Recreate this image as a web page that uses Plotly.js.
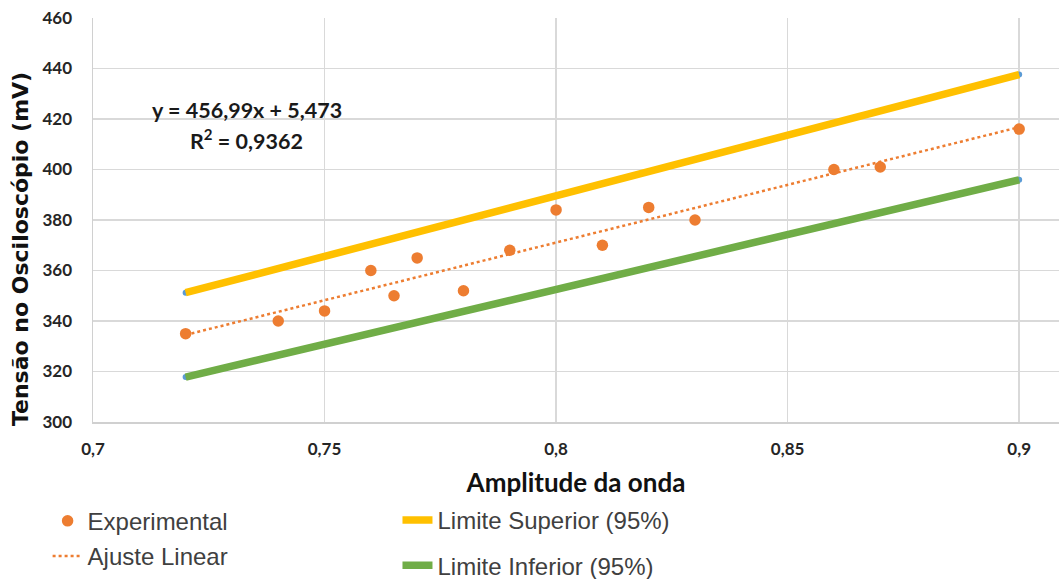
<!DOCTYPE html>
<html>
<head>
<meta charset="utf-8">
<script src="https://cdn.plot.ly/plotly-3.0.1.min.js"></script>
<style>
  html, body { margin: 0; padding: 0; background: #ffffff; }
  #chart { width: 1059px; height: 579px; }
</style>
</head>
<body>
<div id="chart"></div>
<script>
// Amplitude of the wave (x) for every measurement
const amplitude = [0.72, 0.74, 0.75, 0.76, 0.765, 0.77, 0.78, 0.79, 0.80, 0.81, 0.82, 0.83, 0.86, 0.87, 0.90];
// Voltage read on the oscilloscope (mV)
const tensao = [335, 340, 344, 360, 350, 365, 352, 368, 384, 370, 385, 380, 400, 401, 416];
// Upper and lower 95% limits (mV)
const limiteSuperior = [351.2, 360.8, 365.6, 370.4, 372.8, 375.2, 380.0, 384.8, 389.6, 394.4, 399.2, 404.0, 418.4, 423.2, 437.6];
const limiteInferior = [317.8, 326.5, 330.8, 335.2, 337.3, 339.5, 343.8, 348.2, 352.5, 356.9, 361.2, 365.5, 378.6, 382.9, 395.9];
// Linear fit as stated in the chart: y = 456,99x + 5,473
const fitSlope = 456.99;
const fitIntercept = 5.473;
const fitR2 = 0.9362;
const fitX = [amplitude[0], amplitude[amplitude.length - 1]];
const fitY = fitX.map(x => fitSlope * x + fitIntercept);

const xTicks = [0.7, 0.75, 0.8, 0.85, 0.9];
const yTicks = [300, 320, 340, 360, 380, 400, 420, 440, 460];

const calibriLike = 'Lato, "Open Sans", sans-serif';
const legendFont = { family: '"Liberation Sans", Arial, sans-serif', size: 24, color: '#404040' };

const traces = [
  // small blue point markers sitting under the limit lines
  { x: amplitude, y: limiteSuperior, type: 'scatter', mode: 'markers',
    marker: { color: '#5B9BD5', size: 6 }, showlegend: false, hoverinfo: 'skip' },
  { x: amplitude, y: limiteInferior, type: 'scatter', mode: 'markers',
    marker: { color: '#5B9BD5', size: 6 }, showlegend: false, hoverinfo: 'skip' },
  { x: amplitude, y: limiteSuperior, type: 'scatter', mode: 'lines', name: 'Limite Superior (95%)',
    line: { color: '#FFC000', width: 7.5 }, legend: 'legend2', legendgroup: 'sup', legendrank: 1 },
  { x: amplitude, y: limiteInferior, type: 'scatter', mode: 'lines', name: 'Limite Inferior (95%)',
    line: { color: '#70AD47', width: 7.5 }, legend: 'legend2', legendgroup: 'inf', legendrank: 2 },
  { x: fitX, y: fitY, type: 'scatter', mode: 'lines', name: 'Ajuste Linear',
    line: { color: '#ED7D31', width: 2.5, dash: '3px,3px' }, legend: 'legend', legendgroup: 'fit', legendrank: 2 },
  { x: amplitude, y: tensao, type: 'scatter', mode: 'markers', name: 'Experimental',
    marker: { color: '#ED7D31', size: 11.5 }, legend: 'legend', legendgroup: 'exp', legendrank: 1 }
];

const layout = {
  width: 1059, height: 579,
  margin: { l: 93, r: 0, t: 18, b: 157, autoexpand: false },
  paper_bgcolor: '#ffffff', plot_bgcolor: '#ffffff',
  separators: ', ',
  showlegend: true,
  xaxis: {
    range: [0.7, 0.9086],
    tickvals: xTicks,
    showgrid: true, gridcolor: '#d9d9d9', gridwidth: 1.5,
    showline: true, linecolor: '#d0d0d0', linewidth: 1.5,
    zeroline: false, ticks: '',
    ticklabelstandoff: 11,
    tickfont: { family: calibriLike, size: 17, color: '#262626', weight: 'bold' },
    title: { text: 'Amplitude da onda', standoff: 16,
      font: { family: calibriLike, size: 26, color: '#111111', weight: 'bold' } }
  },
  yaxis: {
    range: [300, 460],
    tickvals: yTicks,
    showgrid: true, gridcolor: '#d9d9d9', gridwidth: 1.5,
    showline: true, linecolor: '#d0d0d0', linewidth: 1.5,
    zeroline: false, ticks: '',
    ticklabelstandoff: 16,
    tickfont: { family: calibriLike, size: 17, color: '#262626', weight: 'bold' }
  },
  legend: {
    orientation: 'v', x: -0.047, xanchor: 'left', y: -0.19, yanchor: 'top',
    font: legendFont, bgcolor: 'rgba(0,0,0,0)', tracegroupgap: 1, traceorder: 'grouped'
  },
  legend2: {
    orientation: 'v', x: 0.3152, xanchor: 'left', y: -0.188, yanchor: 'top',
    font: legendFont, bgcolor: 'rgba(0,0,0,0)', tracegroupgap: 11, traceorder: 'grouped'
  },
  annotations: [
    { xref: 'paper', yref: 'paper', x: 0.159, y: 0.772, xanchor: 'center', yanchor: 'middle', showarrow: false,
      text: 'y = 456,99x + 5,473',
      font: { family: calibriLike, size: 21.5, color: '#1a1a1a', weight: 'bold' } },
    { xref: 'paper', yref: 'paper', x: 0.159, y: 0.700, xanchor: 'center', yanchor: 'middle', showarrow: false,
      text: 'R<sup>2</sup> = ' + fitR2.toString().replace('.', ','),
      font: { family: calibriLike, size: 21.5, color: '#1a1a1a', weight: 'bold' } },
    { xref: 'paper', yref: 'paper', x: -0.0756, y: 0.428, xanchor: 'center', yanchor: 'middle', showarrow: false, textangle: -90,
      text: 'Tensão no Osciloscópio (mV)',
      font: { family: '"DejaVu Sans", sans-serif', size: 22, color: '#111111', weight: 'bold' } }
  ]
};

Plotly.newPlot('chart', traces, layout, { displayModeBar: false, staticPlot: true });
</script>
</body>
</html>
